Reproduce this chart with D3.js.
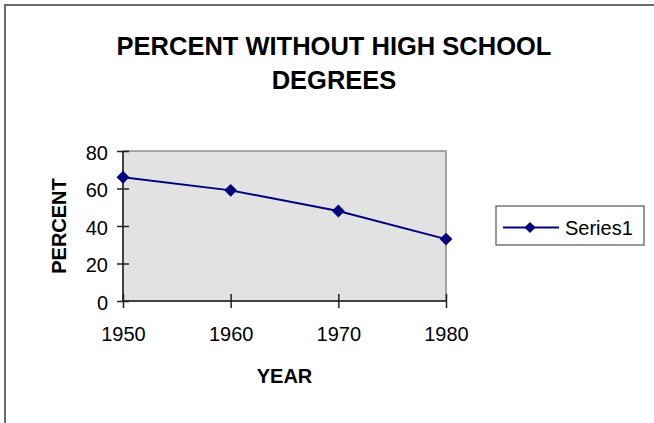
<!DOCTYPE html>
<html>
<head>
<meta charset="utf-8">
<script src="https://cdn.jsdelivr.net/npm/d3@7/dist/d3.min.js"></script>
<style>
  html, body { margin: 0; padding: 0; background: #fff; }
  svg { display: block; }
  text { font-family: Arial, "Liberation Sans", sans-serif; fill: #000; }
</style>
</head>
<body>
<svg id="chart" width="654" height="423"></svg>
<script>
// Share of adults without a high school diploma, by census year
const years = ["1950", "1960", "1970", "1980"];
const percentValues = [66, 59, 48, 33];
const yTicks = [0, 20, 40, 60, 80];
const titleLines = ["PERCENT WITHOUT HIGH SCHOOL", "DEGREES"];
const seriesName = "Series1";

const svg = d3.select("#chart");
const W = 654, H = 423;
const plot = { left: 123, top: 151, right: 446, bottom: 301 };

// Outer chart frame (runs past the right and bottom edges)
svg.append("rect")
  .attr("x", 5).attr("y", 5)
  .attr("width", W + 20).attr("height", H + 20)
  .attr("fill", "none").attr("stroke", "#6b6b6b").attr("stroke-width", 2);

// Title
svg.append("g").selectAll("text").data(titleLines).join("text")
  .attr("x", 334)
  .attr("y", (d, i) => 55 + i * 33.5)
  .attr("text-anchor", "middle")
  .attr("font-size", 25.5)
  .attr("font-weight", "bold")
  .text(d => d);

const x = d3.scalePoint().domain(years).range([plot.left, plot.right]);
const y = d3.scaleLinear().domain([0, 80]).range([plot.bottom, plot.top]);

// Plot area
svg.append("rect")
  .attr("x", plot.left).attr("y", plot.top)
  .attr("width", plot.right - plot.left).attr("height", plot.bottom - plot.top)
  .attr("fill", "#e2e2e2").attr("stroke", "#8c8c8c").attr("stroke-width", 1.5);

// Y axis with crossing tick marks
const yAxis = svg.append("g")
  .attr("transform", `translate(${plot.left},0)`)
  .call(d3.axisLeft(y).tickValues(yTicks).tickSize(6).tickPadding(9));
yAxis.selectAll(".tick line").attr("x2", -6).attr("x1", 6);
yAxis.select(".domain").attr("d", `M0,${plot.top}V${plot.bottom}`);

// X axis with crossing tick marks
const xAxis = svg.append("g")
  .attr("transform", `translate(0,${plot.bottom})`)
  .call(d3.axisBottom(x).tickSize(7).tickPadding(20));
xAxis.selectAll(".tick line").attr("y1", -7).attr("y2", 7);
xAxis.select(".domain").attr("d", `M${plot.left},0H${plot.right}`);

[yAxis, xAxis].forEach(g => {
  g.selectAll(".domain, .tick line").attr("stroke", "#222").attr("stroke-width", 1.5);
  g.selectAll("text").attr("font-size", 20).attr("font-family", "Arial, 'Liberation Sans', sans-serif").attr("fill", "#000");
});
yAxis.selectAll("text").attr("dy", "0.4em");
xAxis.selectAll("text").attr("dy", "0.71em").attr("y", 26);

// Axis titles
svg.append("text")
  .attr("transform", `translate(66,${(plot.top + plot.bottom) / 2}) rotate(-90)`)
  .attr("text-anchor", "middle")
  .attr("font-size", 20).attr("font-weight", "bold")
  .text("PERCENT");

svg.append("text")
  .attr("x", (plot.left + plot.right) / 2).attr("y", 383)
  .attr("text-anchor", "middle")
  .attr("font-size", 20).attr("font-weight", "bold")
  .text("YEAR");

// Series line and diamond markers
const navy = "#000080";
const pts = years.map((yr, i) => [x(yr), y(percentValues[i])]);
svg.append("path")
  .attr("d", d3.line()(pts))
  .attr("fill", "none").attr("stroke", navy).attr("stroke-width", 2);

svg.append("g").selectAll("path").data(pts).join("path")
  .attr("transform", d => `translate(${d[0]},${d[1]}) rotate(45)`)
  .attr("d", d3.symbol().type(d3.symbolSquare).size(82))
  .attr("fill", navy);

// Legend
const lg = svg.append("g");
lg.append("rect")
  .attr("x", 496).attr("y", 206).attr("width", 148).attr("height", 39)
  .attr("fill", "#fff").attr("stroke", "#555").attr("stroke-width", 1.2);
lg.append("line")
  .attr("x1", 503).attr("x2", 559).attr("y1", 227.5).attr("y2", 227.5)
  .attr("stroke", navy).attr("stroke-width", 2);
lg.append("path")
  .attr("transform", "translate(530,227.5) rotate(45)")
  .attr("d", d3.symbol().type(d3.symbolSquare).size(62))
  .attr("fill", navy);
lg.append("text")
  .attr("x", 565).attr("y", 234.5)
  .attr("font-size", 20)
  .text(seriesName);
</script>
</body>
</html>
